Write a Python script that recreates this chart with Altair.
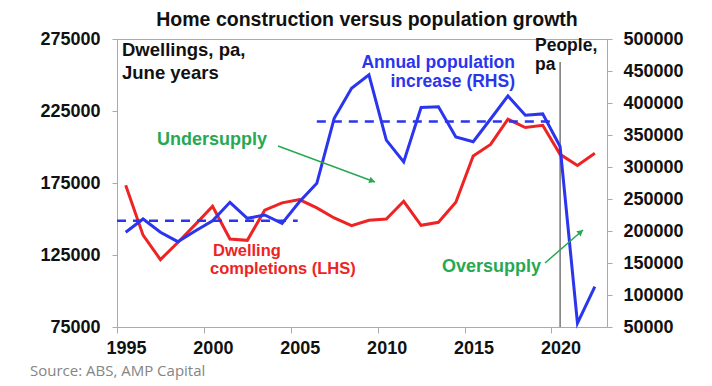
import altair as alt
import pandas as pd

# ---- data ----
years = list(range(1995, 2023))  # June years, drawn mid-bucket
dwellings = [173500, 138800, 121800, 133700, 146100, 158900, 136100, 135200,
             156100, 161200, 163500, 157700, 150700, 145400, 149100, 150000,
             162300, 145600, 147700, 161600, 193700, 201800, 219300, 213500,
             215100, 194900, 187200, 195600]
population = [198000, 218750, 198000, 183300, 200000, 216100, 244800, 219800,
              225000, 212000, 245800, 274500, 376000, 423000, 444000, 342000,
              308000, 393000, 394000, 347000, 339500, 375000, 411000, 381000,
              383000, 332000, 56000, 113000]
avg_start = [1995.0, 2006.5]
avg_end = [2005.4, 2020.3]
avg_pop = [216000, 371000]
marker_year = [2020.5]
x_ticks = [1995, 2000, 2005, 2010, 2015, 2020]
left_ticks = [75000, 125000, 175000, 225000, 275000]
right_ticks = [50000, 100000, 150000, 200000, 250000, 300000, 350000,
               400000, 450000, 500000]

RED = "#ee2324"
BLUE = "#2b35ee"
GREEN = "#27a852"
FONT = "Liberation Sans"

df = pd.DataFrame({
    "year": [y + 0.5 for y in years],
    "dwellings": dwellings,
    "population": population,
})
avg = pd.DataFrame({"start": avg_start, "end": avg_end, "value": avg_pop})
vline = pd.DataFrame({"year": marker_year})
one = pd.DataFrame({"a": [0]})

W, H = 490, 288

axis_common = dict(
    labelFont=FONT, labelFontWeight="bold", labelFontSize=18, labelColor="#111",
    domainColor="#aaa", tickColor="#aaa", grid=False, format="d",
    labelOverlap=False, labelFlush=False,
)

x_scale = alt.Scale(domain=[1995, 2023.2], nice=False, zero=False)
x_axis = alt.Axis(values=x_ticks, labelOffset=9, tickSize=6, labelPadding=6,
                  **axis_common)
X = alt.X("year:Q", title="", scale=x_scale, axis=x_axis)

red = alt.Chart(df).mark_line(color=RED, strokeWidth=3).encode(
    x=X,
    y=alt.Y("dwellings:Q", title="",
            scale=alt.Scale(domain=[75000, 275000], nice=False, zero=False),
            axis=alt.Axis(orient="left", values=left_ticks, tickSize=5,
                          labelPadding=12, **axis_common)),
)

r_scale = alt.Scale(domain=[50000, 500000], nice=False, zero=False)
r_axis = alt.Axis(orient="right", values=right_ticks, tickSize=5,
                  labelPadding=11, **axis_common)

vrule = alt.Chart(vline).mark_rule(color="#333", strokeWidth=1).encode(
    x=alt.X("year:Q", title="", scale=x_scale, axis=x_axis),
    y=alt.value(23), y2=alt.value(H),
)
blue = alt.Chart(df).mark_line(color=BLUE, strokeWidth=3).encode(
    x=X, y=alt.Y("population:Q", title="", scale=r_scale, axis=r_axis))
dashed = alt.Chart(avg).mark_rule(color=BLUE, strokeWidth=2.5,
                                  strokeDash=[9, 7]).encode(
    x=alt.X("start:Q", title="", scale=x_scale, axis=x_axis),
    x2="end:Q",
    y=alt.Y("value:Q", title="", scale=r_scale, axis=r_axis),
)
right = alt.layer(vrule, blue, dashed)


def label(text, x, y, color="#111", size=17, align="left", weight="bold",
          font=FONT):
    return alt.Chart(one).mark_text(
        text=text, align=align, baseline="middle", color=color, fontSize=size,
        fontWeight=weight, font=font,
    ).encode(x=alt.value(x), y=alt.value(y))


def arrow(x0, y0, x1, y1, angle):
    line = alt.Chart(one).mark_rule(color=GREEN, strokeWidth=1.5).encode(
        x=alt.value(x0), y=alt.value(y0), x2=alt.value(x1), y2=alt.value(y1))
    dx, dy = x1 - x0, y1 - y0
    n = (dx * dx + dy * dy) ** 0.5
    head = alt.Chart(one).mark_point(
        shape="triangle-right", filled=True, color=GREEN, size=45,
        angle=angle, opacity=1,
    ).encode(x=alt.value(x1 - 3 * dx / n), y=alt.value(y1 - 3 * dy / n))
    return [line, head]


annotations = [
    label("Home construction versus population growth", 250, -19, size=19.5,
          align="center"),
    label("Dwellings, pa,", 5, 11, size=18.5),
    label("June years", 5, 34, size=18.5),
    label("Annual population", 398, 24, color=BLUE, size=17.5, align="right"),
    label("increase (RHS)", 398, 43, color=BLUE, size=17.5, align="right"),
    label("Undersupply", 40, 101, color=GREEN, size=18),
    label("Dwelling", 96, 212, color=RED, size=16.5),
    label("completions (LHS)", 93, 230, color=RED, size=16.5),
    label("Oversupply", 325, 228, color=GREEN, size=18),
    label("People,", 418, 7, size=17.5),
    label("pa", 418, 26, size=17.5),
    label("Source: ABS, AMP Capital", -87, 332, color="#858585", size=15,
          weight="normal", font="Open Sans"),
]
annotations += arrow(161, 107, 258, 143, 20)
annotations += arrow(428, 224, 466, 191, 319)

chart = alt.layer(red, right, *annotations).resolve_scale(
    y="independent"
).properties(
    width=W, height=H,
    autosize=alt.AutoSizeParams(type="none"),
    padding={"left": 109, "top": 31, "right": 90, "bottom": 54},
).configure_view(stroke="#aaa").configure_text(font=FONT)

chart.save("out.html", embed_options={"renderer": "svg", "actions": False})
